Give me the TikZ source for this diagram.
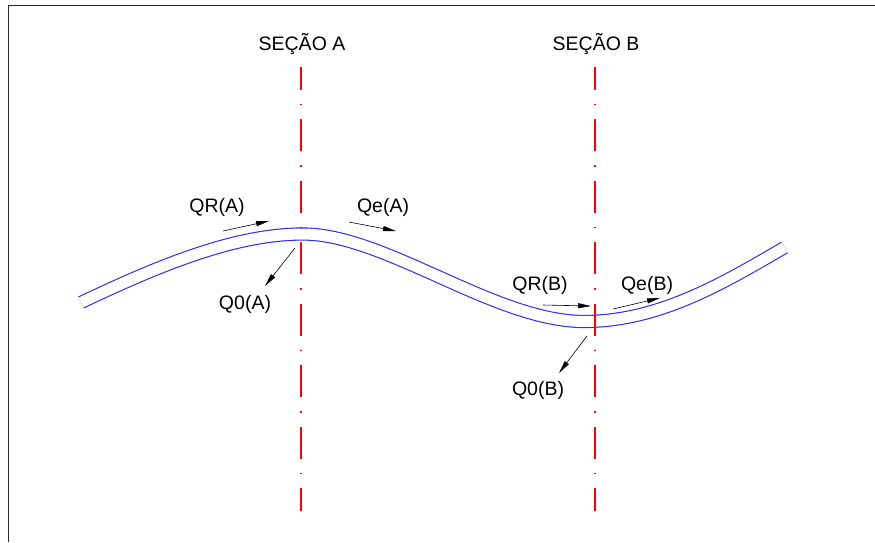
\documentclass[tikz,border=0pt]{standalone}
\usepackage{fontspec}
\setmainfont{Liberation Sans}
\usetikzlibrary{arrows.meta}
\definecolor{pipeblue}{RGB}{40,40,255}
\definecolor{axisred}{RGB}{255,0,0}
\definecolor{framegray}{RGB}{40,40,40}
\tikzset{
  pipe/.style={draw=pipeblue, line width=1.1pt, double=white, double distance=11pt},
  axis/.style={draw=axisred, line width=1.2pt,
    dash pattern=on 32pt off 14pt on 1.5pt off 14pt, dash phase=9pt},
  flow/.style={draw=black, line width=0.6pt, -{Triangle[length=13pt,width=5pt]}},
  lbl/.style={font=\fontsize{19.5}{19.5}\selectfont, anchor=base, inner sep=0pt},
  ttl/.style={font=\fontsize{19.5}{19.5}\selectfont, anchor=base, inner sep=0pt},
  frame/.style={draw=framegray, line width=1.5pt}
}
\begin{document}
\begin{tikzpicture}[x=1pt, y=-1pt]
  \useasboundingbox (0,0) rectangle (875,542);
  % drawing frame: top and left edges
  \coordinate (fTL) at (8.5,5.5);
  \coordinate (fTR) at (875,5.5);
  \coordinate (fBL) at (8.5,542);
  \draw[frame] (fBL) -- (fTL) -- (fTR);

  % the channel, drawn as a double line along its axis
  \draw[pipe] (81,302.5) .. controls (160,265) and (235,234) .. (303,234)
                         .. controls (385,234) and (495,321.5) .. (584,321.5)
                         .. controls (660,321.5) and (725,282) .. (784.5,247.5);

  % section axes (dash-dot), drawn bottom-up
  \coordinate (aBot) at (301,511);
  \coordinate (aTop) at (301,67);
  \coordinate (bBot) at (595,511);
  \coordinate (bTop) at (595,67);
  \draw[axis] (aBot) -- (aTop);
  \draw[axis] (bBot) -- (bTop);

  % section titles
  \node[ttl] (secA) at (302,50) {SEÇÃO A};
  \node[ttl] (secB) at (596,50) {SEÇÃO B};

  % flow labels
  \node[lbl] (qrA) at (217,212) {QR(A)};
  \node[lbl] (qeA) at (383,212) {Qe(A)};
  \node[lbl] (q0A) at (245,309) {Q0(A)};
  \node[lbl] (qrB) at (540,290) {QR(B)};
  \node[lbl] (qeB) at (647,290) {Qe(B)};
  \node[lbl] (q0B) at (538,395) {Q0(B)};

  % flow arrows
  \coordinate (qrAs) at (223,231);  \coordinate (qrAe) at (269,221);
  \coordinate (qeAs) at (349,222);  \coordinate (qeAe) at (396,231);
  \coordinate (q0As) at (295,248);  \coordinate (q0Ae) at (265,286);
  \coordinate (qrBs) at (543,305);  \coordinate (qrBe) at (591,306);
  \coordinate (qeBs) at (613,309);  \coordinate (qeBe) at (660,298);
  \coordinate (q0Bs) at (587,336);  \coordinate (q0Be) at (559,373);
  \draw[flow] (qrAs) -- (qrAe);
  \draw[flow] (qeAs) -- (qeAe);
  \draw[flow] (q0As) -- (q0Ae);
  \draw[flow] (qrBs) -- (qrBe);
  \draw[flow] (qeBs) -- (qeBe);
  \draw[flow] (q0Bs) -- (q0Be);
\end{tikzpicture}
\end{document}
